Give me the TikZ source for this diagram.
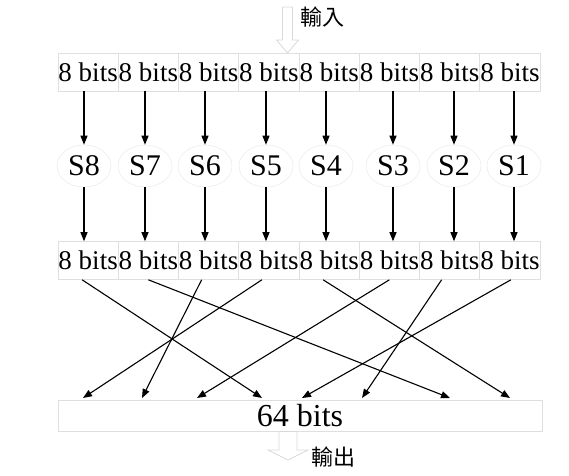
\documentclass[tikz,border=0pt]{standalone}
\usepackage{fontspec}
\setmainfont{Liberation Serif}
\newfontfamily\cjk{Noto Sans CJK TC}
\usetikzlibrary{arrows.meta,shapes.geometric,calc}
\begin{document}
\begin{tikzpicture}[x=1pt,y=-1pt,
  cell/.style={draw=gray!25, line width=0.6pt, minimum width=60.25pt, minimum height=38pt, inner sep=0pt, font=\fontsize{27}{27}\selectfont},
  sbox/.style={ellipse, draw=gray!15, line width=0.6pt, minimum width=54pt, minimum height=42pt, inner sep=0pt, font=\fontsize{30}{30}\selectfont},
  arr/.style={-{Triangle[length=9pt,width=7pt]}, line width=1.1pt},
  blk/.style={draw=gray!30, fill=white, line width=0.8pt},
  cjklab/.style={inner sep=0pt, font=\cjk\fontsize{22}{22}\selectfont}]
\useasboundingbox (0,0) rectangle (569,475);
% input block arrow
\draw[blk] (282.5,7) -- (292.5,7) -- (292.5,40) -- (298.5,40) -- (287.5,53) -- (276.5,40) -- (282.5,40) -- cycle;
\node[cjklab] (in) at (322,17) {輸入};
% top row
\foreach \i in {1,...,8}
  \node[cell] (t\i) at ({58+30.125+60.25*(\i-1)},72) {8 bits};
% S boxes
\foreach \n/\x [count=\i] in {8/84,7/145,6/205,5/266,4/326,3/393,2/454,1/514}
  \node[sbox] (s\i) at (\x,166) {S\n};
% middle row
\foreach \i in {1,...,8}
  \node[cell] (m\i) at ({58+30.125+60.25*(\i-1)},260.5) {8 bits};
% vertical arrows
\foreach \i in {1,...,8} {
  \draw[arr] (s\i.north |- t\i.south) -- (s\i.north);
  \draw[arr] (s\i.south) -- (s\i.south |- m\i.north);
}
% bottom box
\node[draw=gray!25, line width=0.6pt, minimum width=484pt, minimum height=31pt, inner sep=0pt, font=\fontsize{32}{32}\selectfont] (b) at (300,415.5) {64 bits};
% targets on the bottom box
\foreach \x [count=\i] in {83,142,197,262,302,362,450,510}
  \coordinate (p\i) at (\x,398);
% permutation arrows
\draw[arr] ([xshift=-6pt]m1.south) -- (p4);
\draw[arr] ([xshift=0pt]m2.south) -- (p7);
\draw[arr] ([xshift=-7pt]m3.south) -- (p2);
\draw[arr] ([xshift=-7pt]m4.south) -- (p1);
\draw[arr] ([xshift=-6pt]m5.south) -- (p8);
\draw[arr] ([xshift=0pt]m6.south) -- (p3);
\draw[arr] ([xshift=-8pt]m7.south) -- (p6);
\draw[arr] ([xshift=1pt]m8.south) -- (p5);
% output block arrow
\draw[blk] (279,431.5) -- (297,431.5) -- (297,450) -- (308,450) -- (288,460) -- (268,450) -- (279,450) -- cycle;
\node[cjklab] (out) at (333,457) {輸出};
\end{tikzpicture}
\end{document}
